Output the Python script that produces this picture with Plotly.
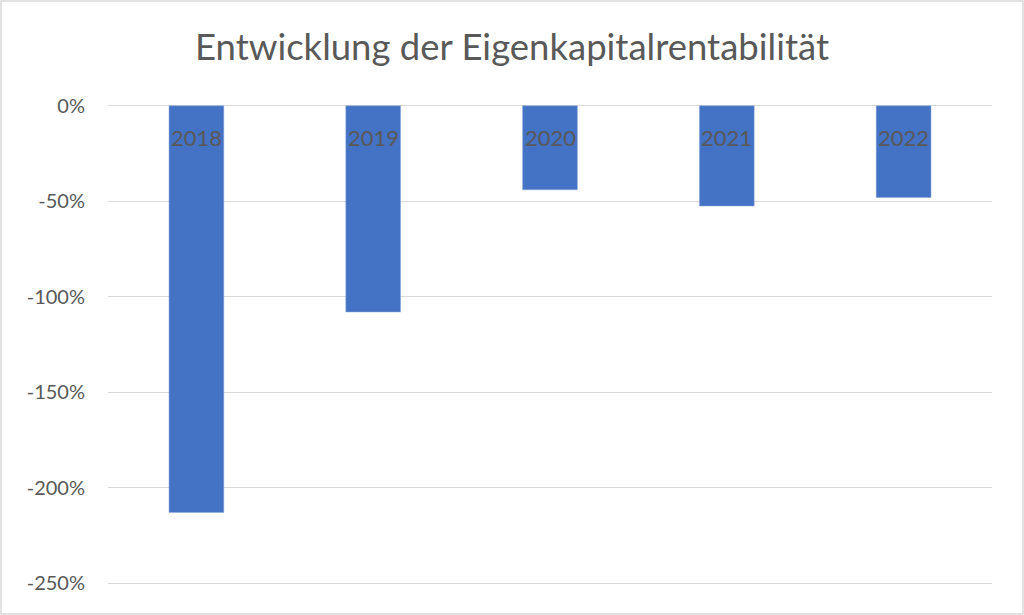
import plotly.graph_objects as go

years = ["2018", "2019", "2020", "2021", "2022"]
roe = [-2.13, -1.08, -0.44, -0.525, -0.48]
y_ticks = [0, -0.5, -1.0, -1.5, -2.0, -2.5]
y_tick_labels = ["0%", "-50%", "-100%", "-150%", "-200%", "-250%"]

W, H = 1024, 615
ml, mr, mt, mb = 108, 32, 102, 28
pw = W - ml - mr
ph = H - mt - mb
FONT = "Lato, Open Sans, sans-serif"

fig = go.Figure(go.Bar(
    x=years, y=roe, width=0.31,
    marker=dict(color="#4472C4", line=dict(color="#8FAADC", width=0.5)),
))

# category labels sitting just below the zero line (Excel "next to axis")
for i, yr in enumerate(years):
    fig.add_annotation(x=i, y=0, xref="x", yref="y", text=yr, showarrow=False,
                       yanchor="middle", yshift=-32,
                       font=dict(family=FONT, size=22, color="#595959"))

fig.update_layout(
    width=W, height=H,
    margin=dict(l=ml, r=mr, t=mt, b=mb),
    paper_bgcolor="white", plot_bgcolor="white",
    showlegend=False,
    title=dict(text="Entwicklung der Eigenkapitalrentabilität",
               x=0.5, xanchor="center", y=1 - 47 / H, yanchor="middle",
               font=dict(family=FONT, size=36.5, color="#595959")),
    xaxis=dict(type="category", range=[-0.5, len(years) - 0.5],
               showticklabels=False, showgrid=False, showline=False, ticks=""),
    yaxis=dict(range=[-2.52, 0.02], tickvals=y_ticks, ticktext=y_tick_labels,
               showgrid=True, gridcolor="#D9D9D9", gridwidth=1.3,
               zeroline=False, showline=False, ticks="", ticklabelstandoff=22,
               tickfont=dict(family=FONT, size=20, color="#595959")),
    shapes=[dict(type="rect", xref="paper", yref="paper",
                 x0=-(ml - 1) / pw, x1=1 + (mr - 1) / pw,
                 y0=-(mb - 1) / ph, y1=1 + (mt - 1) / ph,
                 line=dict(color="#D9D9D9", width=1.5), layer="below")],
)

fig.write_html("out.html", config={"displayModeBar": False},
               post_script="document.body.style.margin='0';")
